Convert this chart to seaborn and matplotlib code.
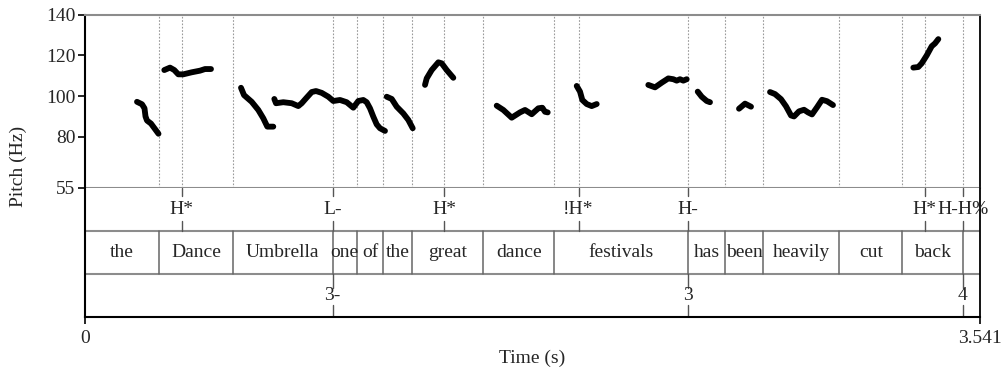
import matplotlib
matplotlib.use("Agg")
import matplotlib.pyplot as plt
import seaborn as sns
import pandas as pd

# pitch track, one list per voiced stretch (time in s, F0 in Hz)
seg_times = [
    [0.2057, 0.2255, 0.2354, 0.2394, 0.2453, 0.2611, 0.2730, 0.2908],
    [0.3137, 0.3363, 0.3533, 0.3691, 0.3889, 0.4222, 0.4550, 0.4748, 0.4985],
    [0.6172, 0.6291, 0.6595, 0.6856, 0.7054, 0.7213, 0.7450],
    [0.7490, 0.7557, 0.7846, 0.8178, 0.8439, 0.8574, 0.8744, 0.8970, 0.9139,
     0.9365, 0.9626, 0.9824, 1.0089, 1.0354, 1.0615, 1.0813, 1.1011, 1.1145,
     1.1276, 1.1407, 1.1541, 1.1672, 1.1869],
    [1.1937, 1.2135, 1.2332, 1.2593, 1.2791, 1.2966],
    [1.3452, 1.3519, 1.3717, 1.3979, 1.4113, 1.4311, 1.4572],
    [1.6289, 1.6550, 1.6882, 1.7211, 1.7409, 1.7674, 1.7935, 1.8093, 1.8200, 1.8307],
    [1.9454, 1.9585, 1.9676, 1.9850, 2.0047, 2.0245],
    [2.2287, 2.2552, 2.2817, 2.3078, 2.3276, 2.3410, 2.3541, 2.3672, 2.3806],
    [2.4242, 2.4400, 2.4598, 2.4728],
    [2.5875, 2.6113, 2.6350],
    [2.7102, 2.7300, 2.7537, 2.7735, 2.7933, 2.8051, 2.8249, 2.8447, 2.8605,
     2.8763, 2.8961, 2.9159, 2.9357, 2.9594],
    [3.2772, 3.2969, 3.3104, 3.3302, 3.3500, 3.3630, 3.3761],
]
seg_hz = [
    [97.2, 96.0, 94.0, 90.0, 88.0, 86.5, 84.5, 81.5],
    [112.8, 114.0, 112.8, 110.7, 110.7, 111.7, 112.5, 113.3, 113.3],
    [104.1, 100.5, 97.2, 93.2, 89.1, 85.0, 85.0],
    [98.6, 96.5, 97.0, 96.5, 95.1, 96.5, 98.9, 102.0, 102.5, 101.6, 99.7, 97.6,
     98.1, 97.0, 94.3, 97.6, 98.1, 97.0, 94.0, 89.9, 86.1, 84.2, 82.9],
    [99.7, 98.6, 94.8, 91.5, 88.3, 84.2],
    [105.5, 108.7, 112.8, 116.6, 116.1, 112.8, 109.0],
    [95.3, 93.2, 89.4, 92.0, 93.2, 91.1, 94.0, 94.3, 92.3, 92.0],
    [105.0, 102.2, 98.1, 96.1, 95.1, 96.1],
    [105.5, 104.3, 106.6, 108.7, 108.3, 107.6, 108.3, 107.6, 108.3],
    [102.2, 99.7, 97.6, 97.0],
    [93.8, 96.3, 94.8],
    [102.0, 101.0, 98.5, 95.0, 90.5, 90.0, 92.5, 93.3, 92.0, 91.0, 94.5, 98.2,
     97.5, 95.6],
    [114.0, 114.3, 116.1, 120.0, 124.5, 125.9, 128.0],
]

# TextGrid tiers
words = ["the", "Dance", "Umbrella", "one", "of", "the", "great", "dance",
         "festivals", "has", "been", "heavily", "cut", "back", ""]
word_bounds = [0.0, 0.2940, 0.5844, 0.9800, 1.0750, 1.1802, 1.2938, 1.5759,
               1.8568, 2.3846, 2.5333, 2.6813, 2.9844, 3.2336, 3.4726, 3.541]
tones = ["H*", "L-", "H*", "!H*", "H-", "H*", "H-H%"]
tone_times = [0.3826, 0.9800, 1.4204, 1.9525, 2.3846, 3.3223, 3.4726]
breaks = ["3-", "3", "4"]
break_times = [0.9800, 2.3846, 3.4726]
t_end = 3.541
y_ticks = [55, 80, 100, 120, 140]

sns.set_style("white")
plt.rcParams["font.family"] = ["Liberation Serif", "DejaVu Serif"]

rows = []
for i, (ts, hs) in enumerate(zip(seg_times, seg_hz)):
    for t, h in zip(ts, hs):
        rows.append({"seg": i, "t": t, "hz": h})
df = pd.DataFrame(rows)

W, H = 1003, 368
fig = plt.figure(figsize=(W / 100, H / 100), dpi=100)
left, right = 85 / W, 980 / W
ax = fig.add_axes([left, 1 - 187.7 / H, right - left, (187.7 - 14.7) / H])
tg = fig.add_axes([left, 1 - 317.3 / H, right - left, (317.3 - 187.7) / H])

gray = "#8c8c8c"
fs = 14

# dotted guides at every boundary and point
guides = sorted(set(word_bounds[1:-1]) | set(tone_times))
for g in guides:
    ax.axvline(g, color="#9a9a9a", ls=(0, (1.5, 1.5)), lw=0.8, zorder=1)

sns.lineplot(data=df, x="t", y="hz", units="seg", estimator=None, sort=False,
             color="black", lw=4.2, ax=ax, zorder=3,
             solid_capstyle="round", solid_joinstyle="round")

ax.set_xlim(0, t_end)
ax.set_ylim(55, 140)
ax.set_yticks(y_ticks)
ax.set_yticklabels([str(v) for v in y_ticks], fontsize=fs)
ax.set_xticks([])
ax.set_xlabel("")
ax.set_ylabel("")
ax.tick_params(axis="y", left=True, length=5, width=1.2, pad=2, color="black")
for s in ["top", "bottom"]:
    ax.spines[s].set_color(gray)
    ax.spines[s].set_linewidth(1.5)
ax.spines["left"].set_color("black")
ax.spines["left"].set_linewidth(1.5)
ax.spines["right"].set_color("black")
ax.spines["right"].set_linewidth(1.3)

# tiers: 0 = tones, 1 = words, 2 = breaks
tg.set_xlim(0, t_end)
tg.set_ylim(3, 0)
tg.set_yticks([])
for yv in [1, 2]:
    tg.axhline(yv, color=gray, lw=1.5)
for s in ["left", "bottom"]:
    tg.spines[s].set_color("black")
    tg.spines[s].set_linewidth(1.5)
tg.spines["top"].set_visible(False)
tg.spines["right"].set_color("black")
tg.spines["right"].set_linewidth(1.3)

for t, lab in zip(tone_times, tones):
    tg.plot([t, t], [0, 0.19], color="#555555", lw=1)
    tg.plot([t, t], [0.77, 1], color="#555555", lw=1)
    tg.text(t, 0.5, lab, ha="center", va="center", fontsize=fs)

for b in word_bounds[1:-1]:
    tg.plot([b, b], [1, 2], color="#666666", lw=1.1)
for a, b, w in zip(word_bounds[:-1], word_bounds[1:], words):
    tg.text((a + b) / 2, 1.5, w, ha="center", va="center", fontsize=fs)

for t, lab in zip(break_times, breaks):
    tg.plot([t, t], [2, 2.32], color="#555555", lw=1)
    tg.plot([t, t], [2.71, 3], color="#555555", lw=1)
    tg.text(t, 2.5, lab, ha="center", va="center", fontsize=fs)

tg.set_xticks([0, t_end])
tg.set_xticklabels(["0", "3.541"], fontsize=fs)
tg.tick_params(axis="x", bottom=True, length=5, width=1.2, pad=4, color="black")

fig.text(532 / W, 1 - 358 / H, "Time (s)", ha="center", va="center", fontsize=fs)
fig.text(18 / W, 1 - 166 / H, "Pitch (Hz)", ha="center", va="center",
         rotation=90, fontsize=fs)

fig.savefig("out.png", dpi=100)
